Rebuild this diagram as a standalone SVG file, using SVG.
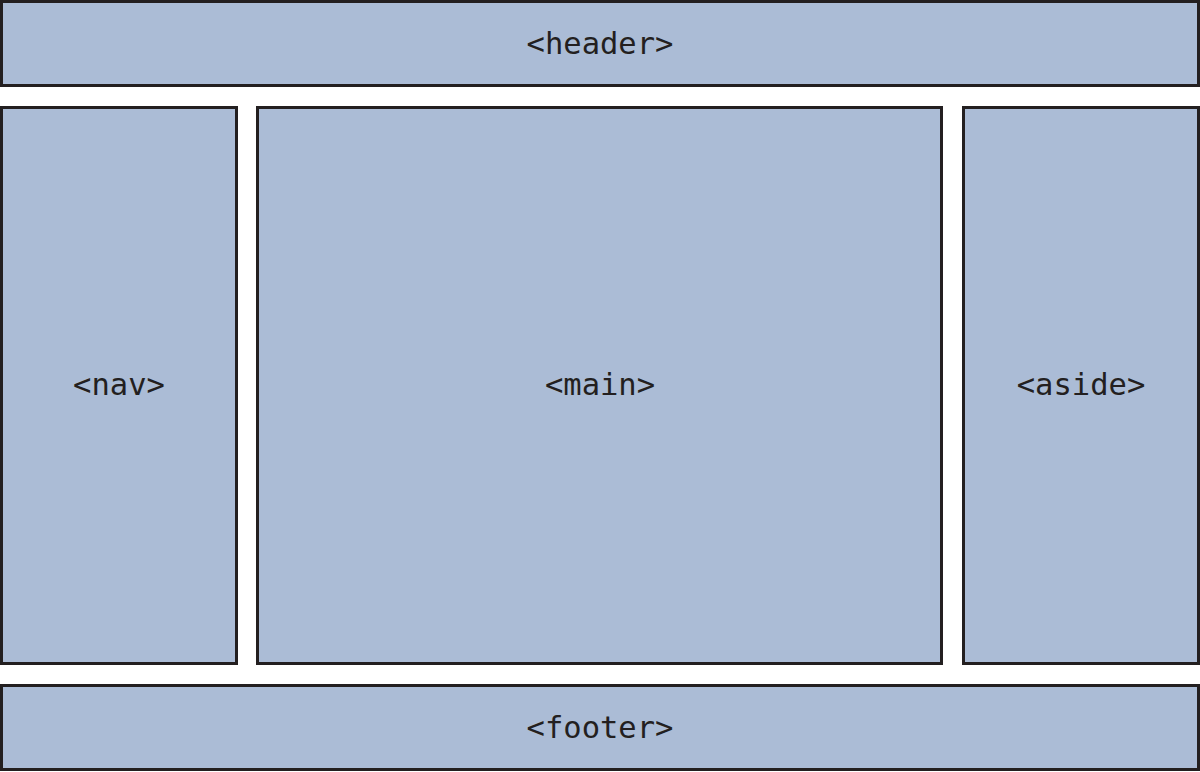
<svg xmlns="http://www.w3.org/2000/svg" width="1200" height="772" viewBox="0 0 1200 772">
<style>
.box{fill:#abbcd6;stroke:#231f20;stroke-width:3}
.lbl{font-family:"DejaVu Sans Mono","Liberation Mono",monospace;font-size:30.5px;fill:#231f20;text-anchor:middle}
</style>
<rect width="1200" height="772" fill="#ffffff"/>
<g id="header"><rect class="box" x="1.5" y="1.5" width="1197" height="84"/><text class="lbl" x="600" y="54">&lt;header&gt;</text></g>
<g id="nav"><rect class="box" x="1.5" y="107.5" width="235" height="556"/><text class="lbl" x="119" y="395">&lt;nav&gt;</text></g>
<g id="main"><rect class="box" x="257.5" y="107.5" width="684" height="556"/><text class="lbl" x="600" y="395">&lt;main&gt;</text></g>
<g id="aside"><rect class="box" x="963.5" y="107.5" width="235" height="556"/><text class="lbl" x="1081" y="395">&lt;aside&gt;</text></g>
<g id="footer"><rect class="box" x="1.5" y="685.5" width="1197" height="84"/><text class="lbl" x="600" y="738">&lt;footer&gt;</text></g>
<g id="connectors"/>
</svg>
